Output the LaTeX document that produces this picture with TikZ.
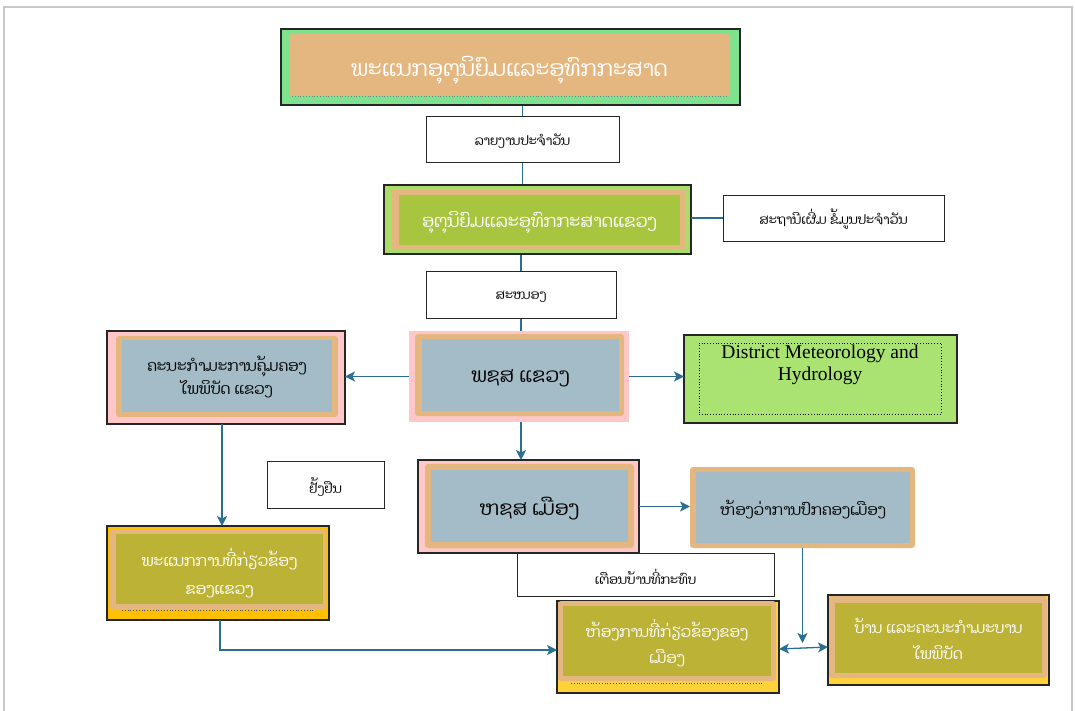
\documentclass[tikz,border=0pt]{standalone}
\usepackage{fontspec}
\newfontfamily\laofont[Script=Lao]{Dhyana}
\newfontfamily\serifen{Liberation Serif}
\usetikzlibrary{arrows.meta,calc,backgrounds}
\definecolor{greenA}{RGB}{127,226,142}
\definecolor{orangeA}{RGB}{229,183,128}
\definecolor{greenB}{RGB}{170,220,104}
\definecolor{greenC}{RGB}{168,197,63}
\definecolor{pinkA}{RGB}{255,199,200}
\definecolor{blueA}{RGB}{164,188,199}
\definecolor{greenD}{RGB}{170,227,114}
\definecolor{yellowA}{RGB}{255,192,0}
\definecolor{yellowB}{RGB}{255,210,58}
\definecolor{oliveA}{RGB}{188,178,54}
\definecolor{lineC}{RGB}{42,110,145}
\definecolor{frameC}{RGB}{200,200,200}
\begin{document}
\begin{tikzpicture}[x=1pt,y=-1pt,
  rect/.style n args={4}{anchor=north west, at={(#1,#2)},
    minimum width={(#3-#1)*1pt}, minimum height={(#4-#2)*1pt},
    inner sep=0pt, outer sep=0pt},
  blackedge/.style={draw=black!85, line width=1.2pt},
  labelbox/.style={fill=white, draw=black!85, line width=0.8pt},
  txt/.style={inner sep=0pt, align=center},
  labtxt/.style={txt, text=black, font=\laofont\fontsize{13}{16}\selectfont},
  laowhite/.style={txt, text=white},
  laoblack/.style={txt, text=black},
  conn/.style={draw=lineC, line width=1.3pt},
  arr/.style={conn, -{Stealth[length=10pt,width=10pt,inset=2.5pt]}},
  arrboth/.style={conn, {Stealth[length=10pt,width=10pt,inset=2.5pt]}-{Stealth[length=10pt,width=10pt,inset=2.5pt]}},
  dotline/.style={dotted, line width=0.8pt}
]
\useasboundingbox (0,0) rectangle (1075,711);
% page frame
\draw[frameC, line width=1.5pt] (4,711) -- (4,7) -- (1072,7) -- (1072,711);

% top box
\node[rect={281}{29}{740}{105}, fill=greenA, blackedge] (top) {};
\node[rect={289}{34}{730}{96}, fill=orangeA, rounded corners=3pt] (topin) {};
\node[laowhite, font=\laofont\fontsize{22}{26}\selectfont] (toptxt)
  at ($(topin.center)+(0,5)$) {ພະແນກອຸຕຸນິຍົມແລະອຸທົກກະສາດ};
\draw[dotline, gray] (292,96) -- (727,96);

% label 1
\node[rect={426}{116}{619}{162}, labelbox] (lab1) {};
\node[labtxt] (lab1t) at ($(lab1.center)+(0,2)$) {ລາຍງານປະຈຳວັນ};

% box 2
\node[rect={384}{185}{691}{254}, fill=greenB, blackedge] (box2) {};
\node[rect={392}{190}{685}{250}, fill=orangeA] (box2o) {};
\node[rect={399}{195}{680}{245}, fill=greenC] (box2in) {};
\node[laowhite, font=\laofont\fontsize{17.5}{20}\selectfont] (box2t)
  at ($(box2in.center)+(0,3)$) {ອຸຕຸນິຍົມແລະອຸທົກກະສາດແຂວງ};

% label 2
\node[rect={723}{195}{944}{241}, labelbox] (lab2) {};
\node[labtxt] (lab2t) at ($(lab2.center)+(0,1)$) {ສະຖານີເຜີ່ມ ຂໍ້ມູນປະຈຳວັນ};

% label 3
\node[rect={426}{271}{616}{318}, labelbox] (lab3) {};
\node[labtxt] (lab3t) at ($(lab3.center)+(0,2)$) {ສະໜອງ};

% provincial PHXS
\node[rect={409}{331}{629}{422}, fill=pinkA] (phxs) {};
\node[rect={415}{334}{624}{416}, fill=orangeA, rounded corners=3pt] (phxso) {};
\node[rect={422}{339}{619}{411}, fill=blueA] (phxsin) {};
\node[laoblack, font=\laofont\fontsize{20}{24}\selectfont] (phxst)
  at ($(phxsin.center)+(0,3)$) {ພຊສ ແຂວງ};

% left committee box
\node[rect={107}{331}{345}{424}, fill=pinkA, blackedge] (lbox) {};
\node[rect={116}{336}{338}{417}, fill=orangeA, rounded corners=3pt] (lboxo) {};
\node[rect={122}{340}{332}{412}, fill=blueA] (lboxin) {};
\node[laoblack, font=\laofont\fontsize{15.3}{23}\selectfont] (lboxt)
  at ($(lboxin.center)+(0,1)$) {ຄະນະກຳມະການຄຸ້ມຄອງ\\ໄພພິບັດ ແຂວງ};

% district meteorology box
\node[rect={684}{335}{957}{423}, fill=greenD, blackedge] (dm) {};
\node[rect={699}{343}{941}{414}, draw=black, dotline] (dmin) {};
\node[anchor=north, txt, text=black,
  font=\serifen\fontsize{19.5}{22}\selectfont] (dmtext) at ($(dmin.north)+(0,2)$)
  {District Meteorology and\\Hydrology};

% label 4
\node[rect={267}{461}{384}{508}, labelbox] (lab4) {};
\node[labtxt] (lab4t) at ($(lab4.center)+(0,2)$) {ຢັ້ງຢືນ};

% district HXS
\node[rect={418}{460}{639}{553}, fill=pinkA, blackedge] (hxs) {};
\node[rect={425}{464}{634}{548}, fill=orangeA, rounded corners=3pt] (hxso) {};
\node[rect={431}{470}{628}{542}, fill=blueA] (hxsin) {};
\node[laoblack, font=\laofont\fontsize{20}{24}\selectfont] (hxst)
  at ($(hxsin.center)+(0,3)$) {ຫຊສ ເມືອງ};

% district governor office
\node[rect={690}{467}{915}{548}, fill=orangeA, rounded corners=3pt] (vo) {};
\node[rect={696}{472}{910}{543}, fill=blueA] (voin) {};
\node[laoblack, font=\laofont\fontsize{15.2}{20}\selectfont] (vot)
  at ($(voin.center)+(0,2)$) {ຫ້ອງວ່າການປົກຄອງເມືອງ};

% label 5
\node[rect={517}{553}{774}{596}, labelbox] (lab5) {};
\node[labtxt] (lab5t) at ($(lab5.center)+(0,2)$) {ເຕືອນບ້ານທີ່ກະທົບ};

% provincial related departments
\node[rect={107}{526}{329}{620}, fill=yellowA, blackedge] (ol) {};
\node[rect={110}{529}{326}{610}, fill=orangeA, rounded corners=3pt] (olo) {};
\node[rect={116}{534}{323}{604}, fill=oliveA] (olin) {};
\node[laowhite, font=\laofont\fontsize{15.5}{28}\selectfont] (olt)
  at ($(olin.center)+(0,4)$) {ພະແນກການທີ່ກ່ຽວຂ້ອງ\\ຂອງແຂວງ};
\draw[dotline, black!70] (122,610.5) -- (314,610.5);

% district related offices
\node[rect={557}{601}{779}{693}, fill=yellowB, blackedge] (hk) {};
\node[rect={558}{601}{776}{681}, fill=orangeA, rounded corners=3pt] (hko) {};
\node[rect={563}{606}{771}{676}, fill=oliveA] (hkin) {};
\node[laowhite, font=\laofont\fontsize{15.3}{26}\selectfont] (hkt)
  at ($(hkin.center)+(0,2)$) {ຫ້ອງການທີ່ກ່ຽວຂ້ອງຂອງ\\ເມືອງ};
\draw[dotline, black!70] (571,683) -- (762,683);

% villages
\node[rect={828}{595}{1049}{685}, fill=yellowB, blackedge] (bn) {};
\node[rect={829}{596}{1047}{678}, fill=orangeA, rounded corners=3pt] (bno) {};
\node[rect={835}{603}{1042}{673}, fill=oliveA] (bnin) {};
\node[laowhite, font=\laofont\fontsize{15.1}{26}\selectfont] (bnt)
  at ($(bnin.center)+(0,1)$) {ບ້ານ ແລະຄະນະກຳມະບານ\\ໄພພິບັດ};

% connectors
\begin{pgfonlayer}{background}
\draw[conn] (top.south -| lab1.center) -- (box2.north -| lab1.center);
\draw[conn] (box2.south -| lab3.center) -- (phxs.north -| lab3.center);
\end{pgfonlayer}
\draw[conn] (box2.east |- lab2.west) -- (lab2.west);
\draw[arr] (phxs.west) -- (phxs.west -| lbox.east);
\draw[arr] (phxs.east) -- (phxs.east -| dm.west);
\draw[arr] ($(phxs.south)+(2,0)$) -- ($(phxs.south |- hxs.north)+(2,0)$);
\draw[arr] (hxs.east) -- (hxs.east -| vo.west);
\draw[arr] ($(lbox.south)+(-4,0)$) -- ($(lbox.south |- ol.north)+(-4,0)$);
\draw[arr] ($(ol.south)+(2,0)$) |- ($(hk.west)+(0,3)$);
\draw[arr] (vo.south) -- ($(vo.south |- hk.east)+(0,-4)$);
\draw[arrboth] ($(hk.east)+(0,2)$) -- ($(bn.west)+(0,7)$);
\end{tikzpicture}
\end{document}
